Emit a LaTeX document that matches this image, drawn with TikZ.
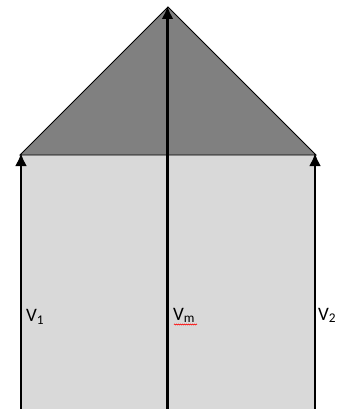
\documentclass[tikz,border=0pt]{standalone}
\usepackage{fontspec}
\setmainfont{Carlito}
\usetikzlibrary{arrows.meta,decorations.pathmorphing}
\definecolor{lightfill}{HTML}{D9D9D9}
\definecolor{darkfill}{HTML}{808080}
\tikzset{
  vec/.style={line width=2.6pt,-{Latex[length=13pt,width=12pt]}},
  lbl/.style={inner sep=0pt,anchor=base west,font=\fontsize{19}{22}\selectfont},
}
\begin{document}
\begin{tikzpicture}[x=1pt,y=-1pt]
\useasboundingbox (0,0) rectangle (339,409);
\coordinate (bl) at (20,155);
\coordinate (br) at (316,155);
\coordinate (apex) at (168,7);
\fill[lightfill] (20,155) rectangle (316,409);
\filldraw[fill=darkfill,draw=black,line width=0.8pt] (bl) -- (apex) -- (br) -- cycle;
\coordinate (b1) at (21,409);
\coordinate (t1) at (21,153);
\coordinate (bm) at (167.5,409);
\coordinate (tm) at (167.5,6);
\coordinate (b2) at (315,409);
\coordinate (t2) at (315,153);
\draw[vec] (b1) -- (t1);
\draw[vec] (bm) -- (tm);
\draw[vec] (b2) -- (t2);
\node[lbl] (l1) at (26,321.5) {V\textsubscript{1}};
\node[lbl] (lm) at (173,320) {V\textsubscript{m}};
\node[lbl] (l2) at (318,320) {V\textsubscript{2}};
\coordinate (ws) at (174,324.5);
\coordinate (we) at (197,324.5);
\draw[red,line width=0.5pt,decorate,decoration={zigzag,segment length=2pt,amplitude=0.6pt}] (ws) -- (we);
\end{tikzpicture}
\end{document}
